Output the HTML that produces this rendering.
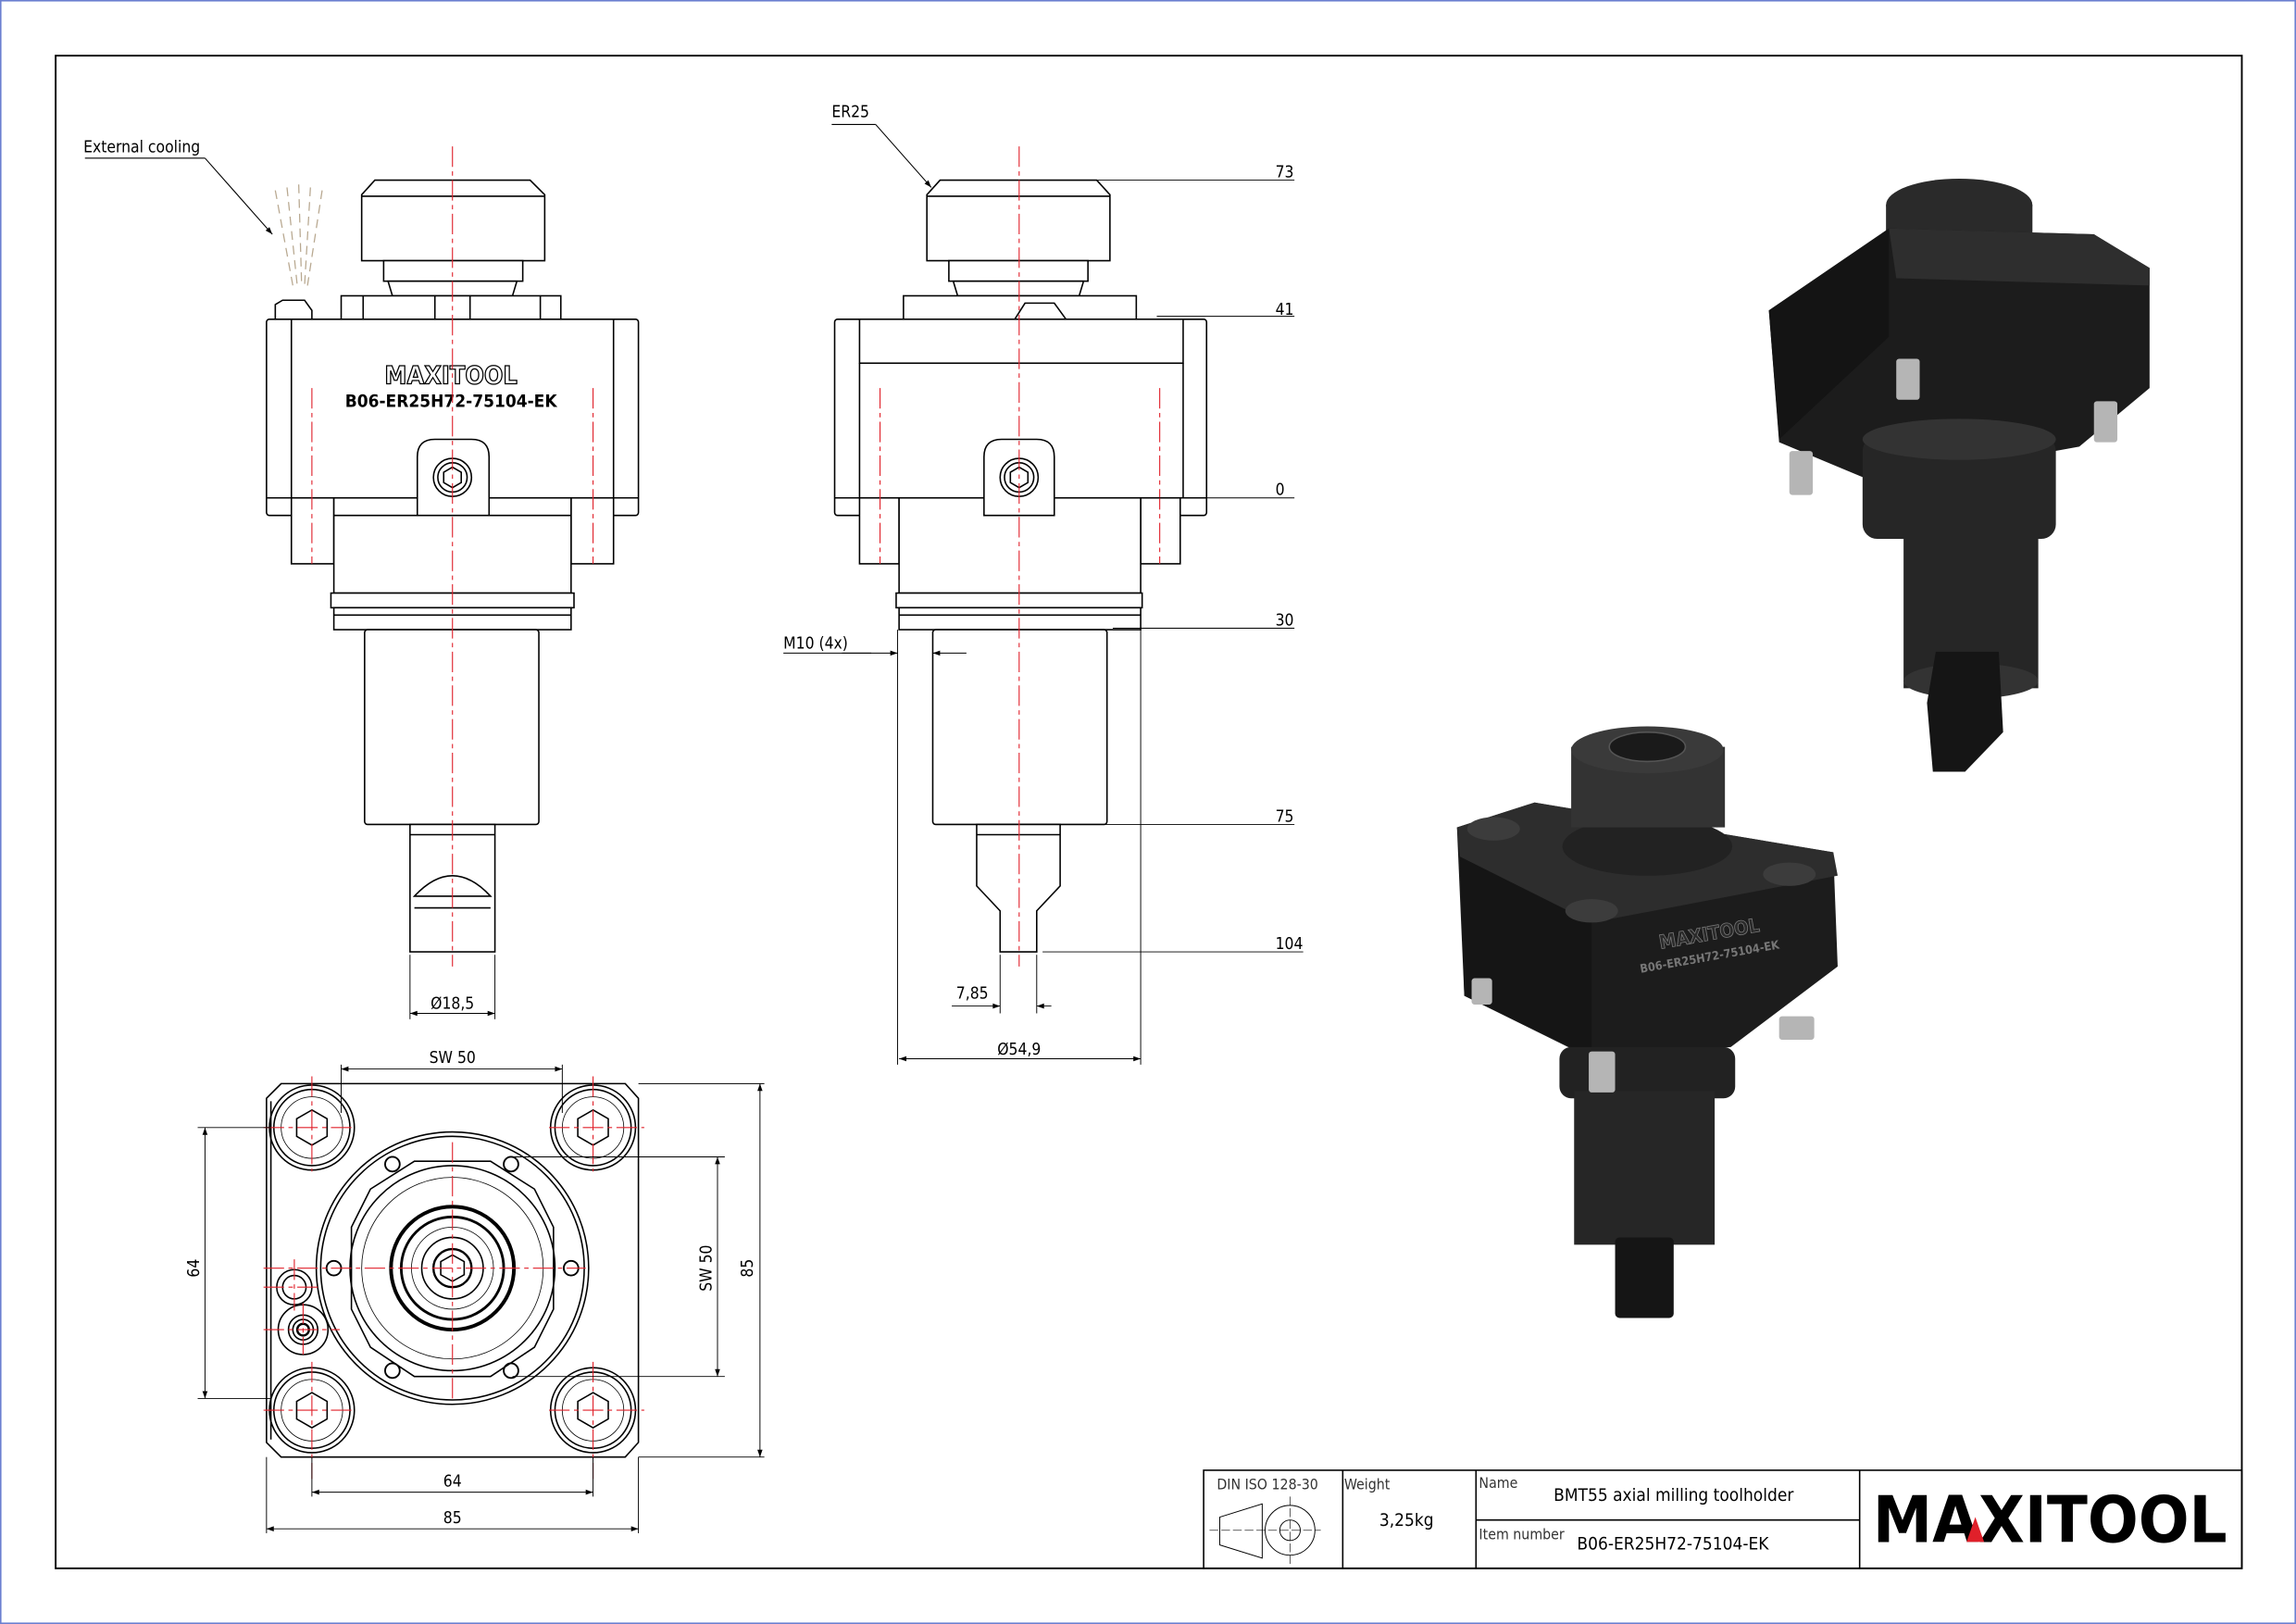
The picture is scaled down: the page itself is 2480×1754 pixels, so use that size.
<!DOCTYPE html>
<html><head><meta charset="utf-8"><style>
html,body{margin:0;padding:0;background:#fff}
svg{display:block}
text{font-family:"DejaVu Sans Condensed","Liberation Sans",sans-serif}
</style></head><body>
<svg width="2480" height="1754" viewBox="0 0 1568 1109" preserveAspectRatio="none" xmlns="http://www.w3.org/2000/svg">
<defs>
<marker id="a" viewBox="0 0 10 10" refX="10" refY="5" markerWidth="9" markerHeight="5" orient="auto-start-reverse" markerUnits="userSpaceOnUse"><path d="M0,1.5 L10,5 L0,8.5 z" fill="#000"/></marker>
<g id="hex"><polygon points="0,-12 10.4,-6 10.4,6 0,12 -10.4,6 -10.4,-6" fill="none" stroke="#000" stroke-width="1"/></g>
</defs>
<rect x="0.5" y="0.5" width="1567" height="1108" fill="#fff" stroke="#6a7fd0" stroke-width="1"/>
<rect x="38" y="38" width="1493" height="1033" fill="none" stroke="#000" stroke-width="1.2"/>

<!-- ============ FRONT VIEW (left) ============ -->
<g fill="#fff" stroke="#000" stroke-width="1">
<path d="M247,178 L247,133 L256,123 L362,123 L372,133 L372,178 Z"/>
<line x1="247" y1="134" x2="372" y2="134"/>
<rect x="262" y="178" width="95" height="14"/>
<path d="M265,192 L353,192 L350,202 L268,202 Z"/>
<rect x="233" y="202" width="150" height="16"/>
<line x1="248" y1="202" x2="248" y2="218"/><line x1="369" y1="202" x2="369" y2="218"/>
<line x1="297" y1="202" x2="297" y2="218"/><line x1="321" y1="202" x2="321" y2="218"/>
<path d="M188,218 L188,208 L193,205 L208,205 L213,212 L213,218"/>
<rect x="182" y="218" width="254" height="134" rx="2"/>
<line x1="199" y1="218" x2="199" y2="340"/><line x1="419" y1="218" x2="419" y2="340"/>
<line x1="182" y1="340" x2="436" y2="340"/>
<rect x="199" y="340" width="29" height="45"/><rect x="390" y="340" width="29" height="45"/>
<rect x="228" y="340" width="162" height="65"/>
<line x1="228" y1="352" x2="390" y2="352"/>
<rect x="226" y="405" width="166" height="10"/><rect x="228" y="415" width="162" height="15"/>
<line x1="228" y1="420" x2="390" y2="420"/>
<rect x="249" y="430" width="119" height="133" rx="2"/>
<rect x="280" y="563" width="58" height="87"/>
<line x1="280" y1="570" x2="338" y2="570"/>
<path d="M283,612 Q309,584 335,612 Z"/>
<line x1="283" y1="620" x2="335" y2="620"/>
<path d="M285,352 L285,312 Q285,300 297,300 L322,300 Q334,300 334,312 L334,352 Z"/>
<circle cx="309" cy="326" r="13"/><circle cx="309" cy="326" r="10"/>
<polygon points="309,319 315,322.5 315,329.5 309,333 303,329.5 303,322.5"/>
</g>
<text x="308" y="262" font-size="17" font-weight="bold" text-anchor="middle" fill="#fff" stroke="#000" stroke-width="0.8" font-family="Liberation Sans">MAXITOOL</text>
<text x="308" y="278" font-size="12" font-weight="bold" text-anchor="middle" fill="#000" font-family="Liberation Sans">B06-ER25H72-75104-EK</text>
<g stroke="#e0202a" stroke-width="0.7" stroke-dasharray="14,3,3,3" fill="none">
<line x1="309" y1="100" x2="309" y2="660"/>
<line x1="213" y1="265" x2="213" y2="385"/><line x1="405" y1="265" x2="405" y2="385"/>
</g>
<!-- cooling spray -->
<g stroke="#b8a890" stroke-width="0.8" stroke-dasharray="6,4">
<line x1="188" y1="130" x2="200" y2="195"/><line x1="196" y1="128" x2="203" y2="195"/>
<line x1="204" y1="126" x2="206" y2="195"/><line x1="212" y1="128" x2="208" y2="195"/><line x1="220" y1="130" x2="210" y2="195"/>
</g>
<line x1="58" y1="108" x2="140" y2="108" stroke="#000" stroke-width="0.7"/>
<line x1="140" y1="108" x2="186" y2="160" stroke="#000" stroke-width="0.7" marker-end="url(#a)"/>
<text x="57" y="104" font-size="11">External cooling</text>
<!-- dim 18,5 -->
<g stroke="#000" stroke-width="0.6" fill="none">
<line x1="280" y1="652" x2="280" y2="696"/><line x1="338" y1="652" x2="338" y2="696"/>
<line x1="280" y1="692" x2="338" y2="692" marker-start="url(#a)" marker-end="url(#a)"/>
</g>
<text x="309" y="689" font-size="11" text-anchor="middle">Ø18,5</text>

<!-- ============ SIDE VIEW ============ -->
<g fill="#fff" stroke="#000" stroke-width="1">
<path d="M633,178 L633,133 L642,123 L749,123 L758,133 L758,178 Z"/>
<line x1="633" y1="134" x2="758" y2="134"/>
<rect x="648" y="178" width="95" height="14"/>
<path d="M651,192 L740,192 L737,202 L654,202 Z"/>
<rect x="617" y="202" width="159" height="16"/>
<path d="M693,218 L700,207 L720,207 L728,218"/>
<rect x="570" y="218" width="254" height="134" rx="2"/>
<rect x="587" y="218" width="221" height="30"/>
<line x1="570" y1="340" x2="824" y2="340"/>
<line x1="587" y1="248" x2="587" y2="340"/><line x1="808" y1="248" x2="808" y2="340"/>
<rect x="587" y="340" width="27" height="45"/><rect x="779" y="340" width="27" height="45"/>
<rect x="614" y="340" width="165" height="65"/>
<rect x="612" y="405" width="168" height="10"/><rect x="614" y="415" width="165" height="15"/>
<line x1="614" y1="420" x2="779" y2="420"/>
<rect x="637" y="430" width="119" height="133" rx="2"/>
<path d="M667,563 L724,563 L724,605 L708,622 L708,650 L683,650 L683,622 L667,605 Z"/>
<line x1="667" y1="570" x2="724" y2="570"/>
<path d="M672,352 L672,312 Q672,300 684,300 L708,300 Q720,300 720,312 L720,352 Z"/>
<circle cx="696" cy="326" r="13"/><circle cx="696" cy="326" r="10"/>
<polygon points="696,319 702,322.5 702,329.5 696,333 690,329.5 690,322.5"/>
</g>
<g stroke="#e0202a" stroke-width="0.7" stroke-dasharray="14,3,3,3" fill="none">
<line x1="696" y1="100" x2="696" y2="660"/>
<line x1="601" y1="265" x2="601" y2="385"/><line x1="792" y1="265" x2="792" y2="385"/>
</g>
<!-- ER25 leader -->
<line x1="568" y1="85" x2="598" y2="85" stroke="#000" stroke-width="0.7"/>
<line x1="598" y1="85" x2="636" y2="128" stroke="#000" stroke-width="0.7" marker-end="url(#a)"/>
<text x="568" y="80" font-size="11">ER25</text>
<!-- height dims -->
<g stroke="#000" stroke-width="0.6">
<line x1="720" y1="123" x2="884" y2="123"/><line x1="790" y1="216" x2="884" y2="216"/>
<line x1="790" y1="340" x2="884" y2="340"/><line x1="760" y1="429" x2="884" y2="429"/>
<line x1="730" y1="563" x2="884" y2="563"/><line x1="712" y1="650" x2="890" y2="650"/>
</g>
<g font-size="11">
<text x="871" y="121">73</text><text x="871" y="215">41</text><text x="871" y="338">0</text>
<text x="871" y="427">30</text><text x="871" y="561">75</text><text x="871" y="648">104</text>
</g>
<!-- M10 -->
<g stroke="#000" stroke-width="0.6" fill="none">
<line x1="535" y1="446" x2="595" y2="446"/>
<line x1="575" y1="446" x2="613" y2="446" marker-end="url(#a)"/>
<line x1="660" y1="446" x2="637" y2="446" marker-end="url(#a)"/>
<line x1="613" y1="430" x2="613" y2="727"/>
<line x1="779" y1="430" x2="779" y2="727"/>
<line x1="614" y1="723" x2="779" y2="723" marker-start="url(#a)" marker-end="url(#a)"/>
<line x1="650" y1="687" x2="683" y2="687" marker-end="url(#a)"/>
<line x1="718" y1="687" x2="708" y2="687" marker-end="url(#a)"/>
<line x1="683" y1="652" x2="683" y2="692"/><line x1="708" y1="652" x2="708" y2="692"/>
</g>
<text x="535" y="443" font-size="11">M10 (4x)</text>
<text x="653" y="682" font-size="11">7,85</text>
<text x="696" y="720" font-size="11" text-anchor="middle">Ø54,9</text>

<!-- ============ BOTTOM VIEW ============ -->
<g fill="#fff" stroke="#000" stroke-width="1">
<path d="M192,740 L427,740 L436,750 L436,985 L427,995 L192,995 L182,985 L182,750 Z"/>
<line x1="185" y1="752" x2="185" y2="983"/>
</g>
<g fill="none" stroke="#000" stroke-width="1">
<g transform="translate(213,770)"><circle r="29"/><circle r="26"/><circle r="21" stroke-width="0.5"/><use href="#hex"/></g>
<g transform="translate(405,770)"><circle r="29"/><circle r="26"/><circle r="21" stroke-width="0.5"/><use href="#hex"/></g>
<g transform="translate(213,963)"><circle r="29"/><circle r="26"/><circle r="21" stroke-width="0.5"/><use href="#hex"/></g>
<g transform="translate(405,963)"><circle r="29"/><circle r="26"/><circle r="21" stroke-width="0.5"/><use href="#hex"/></g>
<circle cx="309" cy="866" r="93"/><circle cx="309" cy="866" r="90"/>
<polygon points="283,793 335,793 365,812 378,838 378,894 365,920 335,940 283,940 253,920 240,894 240,838 253,812"/>
<circle cx="309" cy="866" r="70"/><circle cx="309" cy="866" r="62" stroke-width="0.5"/>
<circle cx="309" cy="866" r="42" stroke-width="2.5"/><circle cx="309" cy="866" r="35" stroke-width="1.8"/>
<circle cx="309" cy="866" r="28" stroke-width="0.5"/><circle cx="309" cy="866" r="21"/>
<circle cx="309" cy="866" r="13" stroke-width="1.5"/>
<polygon points="309,857 317,861.5 317,870.5 309,875 301,870.5 301,861.5"/>
<circle cx="201" cy="879" r="12"/><circle cx="201" cy="879" r="8"/>
<circle cx="207" cy="908" r="17"/><circle cx="207" cy="908" r="10"/><circle cx="207" cy="908" r="7"/><circle cx="207" cy="908" r="4" stroke-width="1.5"/>
<g stroke-width="1.2"><circle cx="268" cy="795" r="5"/><circle cx="349" cy="795" r="5"/><circle cx="268" cy="936" r="5"/><circle cx="349" cy="936" r="5"/><circle cx="228" cy="866" r="5"/><circle cx="390" cy="866" r="5"/></g>
</g>
<g stroke="#e0202a" stroke-width="0.7" stroke-dasharray="14,3,3,3">
<line x1="309" y1="780" x2="309" y2="955"/><line x1="180" y1="866" x2="400" y2="866"/>
<line x1="213" y1="735" x2="213" y2="800"/><line x1="405" y1="735" x2="405" y2="800"/>
<line x1="213" y1="930" x2="213" y2="1010"/><line x1="405" y1="930" x2="405" y2="1010"/>
<line x1="180" y1="770" x2="240" y2="770"/><line x1="375" y1="770" x2="440" y2="770"/>
<line x1="180" y1="963" x2="240" y2="963"/><line x1="375" y1="963" x2="440" y2="963"/>
<line x1="180" y1="879" x2="220" y2="879"/><line x1="180" y1="908" x2="232" y2="908"/>
<line x1="201" y1="860" x2="201" y2="895"/><line x1="207" y1="890" x2="207" y2="925"/>
</g>
<g stroke="#000" stroke-width="0.6" fill="none">
<line x1="233" y1="727" x2="233" y2="760"/><line x1="384" y1="727" x2="384" y2="760"/>
<line x1="233" y1="730" x2="384" y2="730" marker-start="url(#a)" marker-end="url(#a)"/>
<line x1="135" y1="770" x2="185" y2="770"/><line x1="135" y1="955" x2="185" y2="955"/>
<line x1="140" y1="770" x2="140" y2="955" marker-start="url(#a)" marker-end="url(#a)"/>
<line x1="436" y1="740" x2="522" y2="740"/><line x1="436" y1="995" x2="522" y2="995"/>
<line x1="519" y1="740" x2="519" y2="995" marker-start="url(#a)" marker-end="url(#a)"/>
<line x1="350" y1="790" x2="495" y2="790"/><line x1="350" y1="940" x2="495" y2="940"/>
<line x1="490" y1="790" x2="490" y2="940" marker-start="url(#a)" marker-end="url(#a)"/>
<line x1="213" y1="995" x2="213" y2="1022"/><line x1="405" y1="995" x2="405" y2="1022"/>
<line x1="213" y1="1019" x2="405" y2="1019" marker-start="url(#a)" marker-end="url(#a)"/>
<line x1="182" y1="995" x2="182" y2="1047"/><line x1="436" y1="995" x2="436" y2="1047"/>
<line x1="182" y1="1044" x2="436" y2="1044" marker-start="url(#a)" marker-end="url(#a)"/>
</g>
<g font-size="11">
<text x="309" y="726" text-anchor="middle">SW 50</text>
<text x="309" y="1015" text-anchor="middle">64</text>
<text x="309" y="1040" text-anchor="middle">85</text>
<text transform="translate(136,866) rotate(-90)" text-anchor="middle">64</text>
<text transform="translate(514,866) rotate(-90)" text-anchor="middle">85</text>
<text transform="translate(486,866) rotate(-90)" text-anchor="middle">SW 50</text>
</g>

<!-- ============ 3D RENDER top right ============ -->
<g>
<ellipse cx="1338" cy="140" rx="50" ry="18" fill="#2a2a2a"/>
<rect x="1288" y="140" width="100" height="30" fill="#2a2a2a"/>
<polygon points="1208,212 1290,156 1430,160 1468,183 1468,265 1420,305 1282,330 1215,302" fill="#1c1c1c"/>
<polygon points="1208,212 1290,156 1290,230 1215,300" fill="#141414"/>
<polygon points="1290,156 1430,160 1468,183 1468,195 1295,190" fill="#2e2e2e"/>
<rect x="1272" y="298" width="132" height="70" rx="10" fill="#262626"/>
<ellipse cx="1338" cy="300" rx="66" ry="14" fill="#333"/>
<rect x="1300" y="365" width="92" height="105" fill="#262626"/>
<ellipse cx="1346" cy="465" rx="46" ry="12" fill="#333"/>
<polygon points="1322,445 1365,445 1368,500 1342,527 1320,527 1316,480" fill="#151515"/>
<g fill="#b5b5b5"><rect x="1222" y="308" width="16" height="30" rx="2"/><rect x="1295" y="245" width="16" height="28" rx="2"/><rect x="1430" y="274" width="16" height="28" rx="2"/></g>
</g>

<!-- ============ 3D RENDER bottom left ============ -->
<g>
<polygon points="995,565 1048,548 1252,582 1255,660 1182,715 1085,722 1000,680" fill="#1c1c1c"/>
<polygon points="995,565 1048,548 1252,582 1255,598 1087,630 997,585" fill="#2d2d2d"/>
<polygon points="997,585 1087,630 1087,722 1000,680" fill="#151515"/>
<rect x="1065" y="715" width="120" height="35" rx="8" fill="#222"/>
<rect x="1075" y="745" width="96" height="105" fill="#262626"/>
<rect x="1103" y="845" width="40" height="55" rx="3" fill="#151515"/>
<ellipse cx="1125" cy="578" rx="58" ry="20" fill="#222"/>
<rect x="1073" y="510" width="105" height="55" fill="#333"/>
<ellipse cx="1125" cy="512" rx="52" ry="16" fill="#3a3a3a"/>
<ellipse cx="1125" cy="510" rx="26" ry="10" fill="#1a1a1a" stroke="#555"/>
<g fill="#3c3c3c"><ellipse cx="1020" cy="566" rx="18" ry="8"/><ellipse cx="1222" cy="597" rx="18" ry="8"/><ellipse cx="1087" cy="622" rx="18" ry="8"/></g>
<g fill="#b5b5b5"><rect x="1005" y="668" width="14" height="18" rx="2"/><rect x="1215" y="694" width="24" height="16" rx="2"/><rect x="1085" y="718" width="18" height="28" rx="2"/></g>
<text x="1168" y="642" font-size="13" font-weight="bold" fill="#2a2a2a" stroke="#777" stroke-width="0.5" text-anchor="middle" transform="rotate(-10 1168 642)" font-family="Liberation Sans">MAXITOOL</text>
<text x="1168" y="656" font-size="8" font-weight="bold" fill="#777" text-anchor="middle" transform="rotate(-10 1168 656)" font-family="Liberation Sans">B06-ER25H72-75104-EK</text>
</g>

<!-- ============ TITLE BLOCK ============ -->
<g fill="none" stroke="#000" stroke-width="1">
<rect x="822" y="1004" width="709" height="67"/>
<line x1="917" y1="1004" x2="917" y2="1071"/>
<line x1="1008" y1="1004" x2="1008" y2="1071"/>
<line x1="1270" y1="1004" x2="1270" y2="1071"/>
<line x1="1008" y1="1038" x2="1270" y2="1038"/>
<polygon points="833,1036 862,1027 862,1064 833,1055" stroke-width="0.6"/>
<circle cx="881" cy="1045" r="17" stroke-width="0.6"/><circle cx="881" cy="1045" r="7" stroke-width="0.6"/>
<line x1="826" y1="1045" x2="902" y2="1045" stroke-width="0.4" stroke-dasharray="6,2"/>
<line x1="881" y1="1022" x2="881" y2="1068" stroke-width="0.4" stroke-dasharray="6,2"/>
</g>
<g font-size="10" fill="#333">
<text x="831" y="1017">DIN ISO 128-30</text>
<text x="918" y="1017">Weight</text>
<text x="1010" y="1016">Name</text>
<text x="1010" y="1051">Item number</text>
</g>
<text x="942" y="1042" font-size="12">3,25kg</text>
<text x="1061" y="1025" font-size="12">BMT55 axial milling toolholder</text>
<text x="1077" y="1058" font-size="12">B06-ER25H72-75104-EK</text>
<text x="1400" y="1053" font-size="44" font-weight="bold" text-anchor="middle" font-family="Liberation Sans" textLength="242" lengthAdjust="spacingAndGlyphs">MAXITOOL</text>
<polygon points="1343,1053 1349,1036 1355,1053" fill="#e0202a"/>
</svg>
</body></html>
